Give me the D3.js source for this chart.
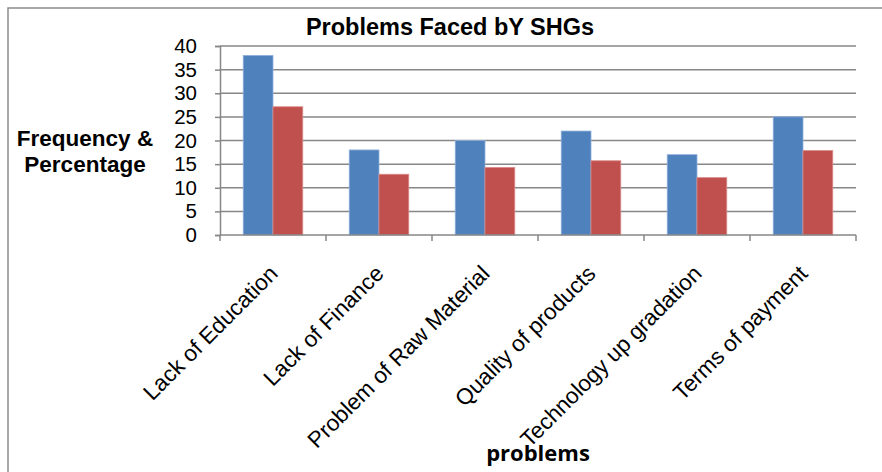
<!DOCTYPE html>
<html>
<head>
<meta charset="utf-8">
<script src="https://cdn.jsdelivr.net/npm/d3@7"></script>
<style>
  body { margin: 0; background: #fff; }
  svg { display: block; font-family: Arial, "Liberation Sans", sans-serif; }
</style>
</head>
<body>
<svg id="chart" width="882" height="472"></svg>
<script>
// data
const categories = ["Lack of Education", "Lack of Finance", "Problem of Raw Material",
  "Quality of products", "Technology up gradation", "Terms of payment"];
const frequency = [38, 18, 20, 22, 17, 25];
const percentage = [27.14, 12.86, 14.29, 15.71, 12.14, 17.86];
const yTicks = [0, 5, 10, 15, 20, 25, 30, 35, 40];
const colors = ["#4f81bd", "#c0504d"];

const svg = d3.select("#chart");
const plotL = 220, plotR = 856, plotT = 46, plotB = 235;

// outer frame (cropped on the right and bottom)
svg.append("rect")
  .attr("x", 8).attr("y", 8).attr("width", 920).attr("height", 520)
  .attr("fill", "none").attr("stroke", "#8c8c8c").attr("stroke-width", 1.5);

const x = d3.scaleBand().domain(categories).range([plotL, plotR]);
const x1 = d3.scaleBand().domain([0, 1]).range([0, x.bandwidth()]).paddingOuter(0.78).paddingInner(0);
const y = d3.scaleLinear().domain([0, 40]).range([plotB, plotT]);

// gridlines
svg.append("g").selectAll("line").data(yTicks.filter(d => d > 0)).join("line")
  .attr("x1", plotL).attr("x2", plotR)
  .attr("y1", d => y(d)).attr("y2", d => y(d))
  .attr("stroke", "#878787").attr("stroke-width", 1.5);

// bars
const series = [frequency, percentage];
series.forEach((vals, s) => {
  svg.append("g").selectAll("rect").data(vals).join("rect")
    .attr("x", (d, i) => x(categories[i]) + x1(s))
    .attr("y", d => y(d))
    .attr("width", x1.bandwidth())
    .attr("height", d => y(0) - y(d))
    .attr("fill", colors[s])
    .attr("stroke", s === 0 ? "#8fb0da" : "#d98a88")
    .attr("stroke-width", 0.8);
});

// y axis
const yAxis = svg.append("g").attr("transform", `translate(${plotL},0)`)
  .call(d3.axisLeft(y).tickValues(yTicks).tickSize(5).tickPadding(18));
yAxis.select(".domain").attr("stroke", "#878787").attr("stroke-width", 1.5);
yAxis.selectAll(".tick line").attr("stroke", "#878787").attr("stroke-width", 1.5);
yAxis.selectAll(".tick text").attr("font-size", 20.5).attr("fill", "#000")
  .attr("font-family", "Arial, 'Liberation Sans', sans-serif");

// x axis with ticks at category boundaries
svg.append("line").attr("x1", plotL).attr("x2", plotR).attr("y1", plotB).attr("y2", plotB)
  .attr("stroke", "#878787").attr("stroke-width", 1.5);
const bounds = categories.map(c => x(c)).concat([plotR]);
svg.append("g").selectAll("line").data(bounds).join("line")
  .attr("x1", d => d).attr("x2", d => d).attr("y1", plotB).attr("y2", plotB + 6)
  .attr("stroke", "#878787").attr("stroke-width", 1.5);

// rotated category labels
svg.append("g").selectAll("text").data(categories).join("text")
  .attr("transform", d => `translate(${x(d) + x.bandwidth() / 2 + 6},${plotB + 40}) rotate(-45)`)
  .attr("text-anchor", "end")
  .attr("font-size", 22.5)
  .text(d => d);

// titles
svg.append("text").attr("x", 450).attr("y", 35).attr("text-anchor", "middle")
  .attr("font-size", 23.5).attr("font-weight", "bold").text("Problems Faced bY SHGs");

const yt = svg.append("text").attr("text-anchor", "middle").attr("font-size", 22.5).attr("font-weight", "bold");
yt.append("tspan").attr("x", 85).attr("y", 146).text("Frequency &");
yt.append("tspan").attr("x", 85).attr("y", 172).text("Percentage");

svg.append("text").attr("x", (plotL + plotR) / 2).attr("y", 461).attr("text-anchor", "middle")
  .attr("font-size", 22).attr("font-weight", "bold").attr("font-family", "'Open Sans', sans-serif")
  .text("problems");
</script>
</body>
</html>
